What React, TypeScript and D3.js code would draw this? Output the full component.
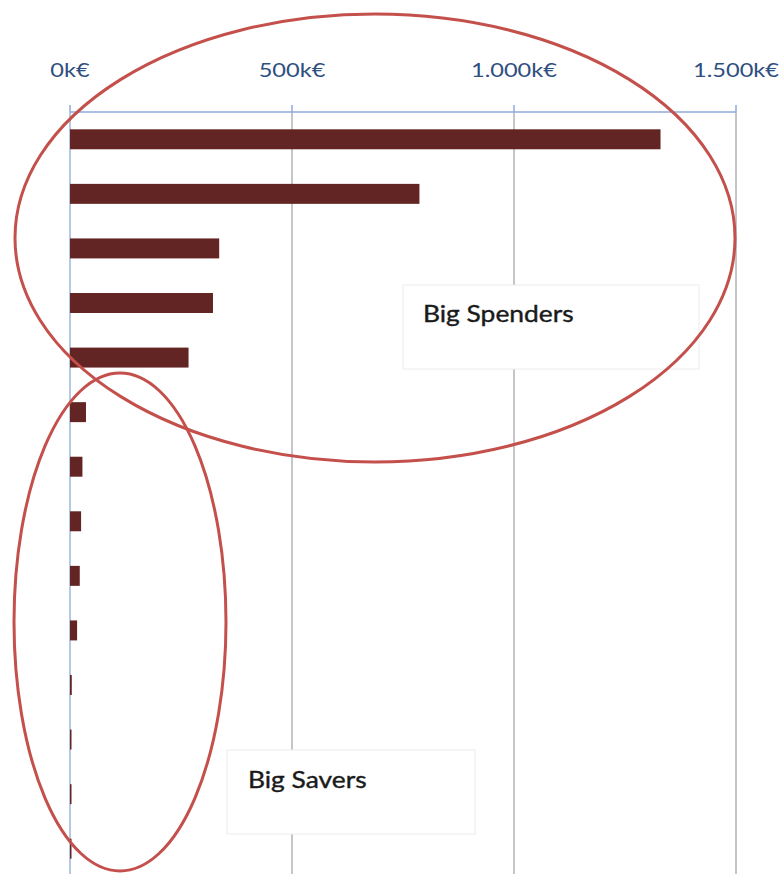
import React from "react";
import * as d3 from "d3";

const categories = ["C1","C2","C3","C4","C5","C6","C7","C8","C9","C10","C11","C12","C13","C14"];
const values = [1330, 787, 336, 322, 267, 36, 28, 25, 22, 16, 4, 3, 2.5, 2];
const tickValues = [0, 500, 1000, 1500];
const tickLabels = ["0k€", "500k€", "1.000k€", "1.500k€"];
const annotations = ["Big Spenders", "Big Savers"];

const W = 784, H = 874;

export default function App() {
  const x = d3.scaleLinear().domain([0, 1500]).range([70, 736]);
  const y = d3.scaleBand<string>().domain(categories).range([112, 876]).paddingInner(0.634).paddingOuter(0.317);
  const axisY = 112;
  const bar = "#632523";
  const red = "#c4504c";
  const font = "Lato, 'Open Sans', sans-serif";
  const stretch = (cx: number, s: number) => `translate(${cx},0) scale(${s},1) translate(${-cx},0)`;
  return (
    <svg width={W} height={H} style={{ position: "absolute", left: 0, top: 0, background: "#fff" }}>
      {/* gridlines */}
      {tickValues.map((t, i) => (
        <line key={"g" + i} x1={x(t)} x2={x(t)} y1={axisY} y2={H}
          stroke={i === 0 ? "#b7c9e2" : "#c4c6cc"} strokeWidth={2} />
      ))}
      {/* axis line */}
      <line x1={x(0)} x2={x(1500)} y1={axisY} y2={axisY} stroke="#8faadc" strokeWidth={1.5} />
      {tickValues.map((t, i) => (
        <line key={"t" + i} x1={x(t)} x2={x(t)} y1={axisY - 7} y2={axisY} stroke="#8faadc" strokeWidth={1.5} />
      ))}
      {tickValues.map((t, i) => (
        <text key={"l" + i} x={x(t)} y={77} textAnchor="middle" fontFamily={font} fontSize={20}
          fill="#2f4f7f" transform={stretch(x(t), 1.18)}>{tickLabels[i]}</text>
      ))}
      {/* bars */}
      {values.map((v, i) => (
        <rect key={"b" + i} x={x(0)} y={y(categories[i])} width={Math.max(1.5, x(v) - x(0))}
          height={y.bandwidth()} fill={bar} />
      ))}
      {/* annotation boxes */}
      <rect x={403} y={285} width={296} height={84} fill="#fff" stroke="#ececec" strokeWidth={1} />
      <text x={423} y={322} fontFamily={font} fontSize={24} fill="#1a1a1a" stroke="#1a1a1a" strokeWidth={0.4}
        transform={stretch(423, 1.1)}>{annotations[0]}</text>
      <rect x={227} y={750} width={248} height={84} fill="#fff" stroke="#ececec" strokeWidth={1} />
      <text x={248} y={788} fontFamily={font} fontSize={24} fill="#1a1a1a" stroke="#1a1a1a" strokeWidth={0.4}
        transform={stretch(248, 1.1)}>{annotations[1]}</text>
      {/* ellipses */}
      <ellipse cx={375} cy={238} rx={360} ry={224} fill="none" stroke={red} strokeWidth={3} />
      <ellipse cx={120} cy={622} rx={106} ry={249} fill="none" stroke={red} strokeWidth={3} />
    </svg>
  );
}
